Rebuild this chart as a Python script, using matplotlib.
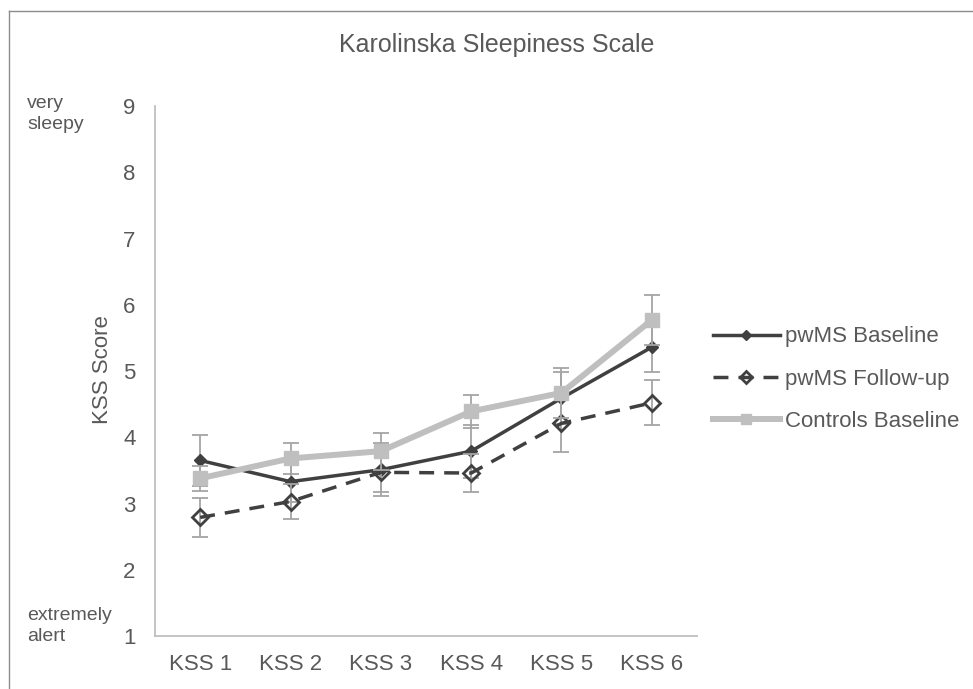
import matplotlib
matplotlib.use("Agg")
import matplotlib.pyplot as plt
from matplotlib.lines import Line2D
import numpy as np

plt.rcParams["font.family"] = ["Liberation Sans", "DejaVu Sans"]

# data
categories = ["KSS 1", "KSS 2", "KSS 3", "KSS 4", "KSS 5", "KSS 6"]
baseline = [3.65, 3.33, 3.51, 3.79, 4.59, 5.36]
baseline_err = [0.39, 0.30, 0.40, 0.40, 0.39, 0.37]
followup = [2.79, 3.03, 3.47, 3.46, 4.21, 4.52]
followup_err = [0.29, 0.27, 0.29, 0.28, 0.44, 0.34]
controls = [3.38, 3.68, 3.79, 4.39, 4.67, 5.77]
controls_err = [0.19, 0.23, 0.28, 0.25, 0.38, 0.37]
yticks = [1, 2, 3, 4, 5, 6, 7, 8, 9]

txt = "#595959"
dark = "#404040"
light = "#BFBFBF"
errc = "#A5A5A5"

W, H = 973, 689
fig = plt.figure(figsize=(W / 100, H / 100), dpi=100)
ax = fig.add_axes([155 / W, 1 - 636 / H, (697 - 155) / W, (636 - 106) / H])

x = np.arange(len(categories))

# error bars sit under their own series, like Excel draws them
ax.errorbar(x, baseline, yerr=baseline_err, fmt="none", ecolor=errc,
            elinewidth=1.3, capsize=5.5, capthick=1.3, zorder=1)
ax.plot(x, baseline, color=dark, lw=2.5, marker="D", ms=6.2,
        mfc=dark, mec=dark, label="pwMS Baseline", zorder=2)

ax.errorbar(x, followup, yerr=followup_err, fmt="none", ecolor=errc,
            elinewidth=1.3, capsize=5.5, capthick=1.3, zorder=3)
ax.plot(x, followup, color=dark, lw=2.5, ls=(0, (4.3, 2.9)), marker="D", ms=8.0,
        mfc="none", mec=dark, mew=2.0, label="pwMS Follow-up", zorder=4)

ax.errorbar(x, controls, yerr=controls_err, fmt="none", ecolor=errc,
            elinewidth=1.3, capsize=5.5, capthick=1.3, zorder=5)
ax.plot(x, controls, color=light, lw=4.3, marker="s", ms=9.4,
        mfc=light, mec=light, label="Controls Baseline", zorder=6)

ax.set_xlim(-0.5, len(categories) - 0.5)
ax.set_ylim(1, 9)
ax.set_xticks(x)
ax.set_xticklabels(categories)
ax.set_yticks(yticks)
ax.tick_params(axis="both", length=0, labelsize=16, colors=txt)
ax.tick_params(axis="y", pad=14)
ax.tick_params(axis="x", pad=13)

for side in ["top", "right"]:
    ax.spines[side].set_visible(False)
for side in ["left", "bottom"]:
    ax.spines[side].set_color("#BFBFBF")
    ax.spines[side].set_linewidth(1.3)

fig.text(497 / W, 1 - 45 / H, "Karolinska Sleepiness Scale", ha="center", va="center",
         fontsize=18, color=txt)
fig.text(103 / W, 1 - 370 / H, "KSS Score", rotation=90, ha="center", va="center",
         fontsize=16, color=txt)
fig.text(27 / W, 1 - 114 / H, "very\nsleepy", ha="left", va="center",
         fontsize=14, color=txt, linespacing=1.35)
fig.text(27 / W, 1 - 626 / H, "extremely\nalert", ha="left", va="center",
         fontsize=14, color=txt, linespacing=1.35)

leg = fig.legend(loc="center left", bbox_to_anchor=(713 / W, 1 - 379 / H),
                 frameon=False, fontsize=16, handlelength=3.0, handletextpad=0.25,
                 labelspacing=0.95, borderpad=0, borderaxespad=0, markerscale=0.75)
for t in leg.get_texts():
    t.set_color(txt)

# chart-area border (only top and left show in the crop)
fig.add_artist(Line2D([9 / W, 9 / W], [0, 1 - 11 / H], color="#8C8C8C", lw=1.0,
                      transform=fig.transFigure))
fig.add_artist(Line2D([9 / W, 1], [1 - 11 / H, 1 - 11 / H], color="#8C8C8C", lw=1.0,
                      transform=fig.transFigure))

fig.savefig("out.png", dpi=100)
